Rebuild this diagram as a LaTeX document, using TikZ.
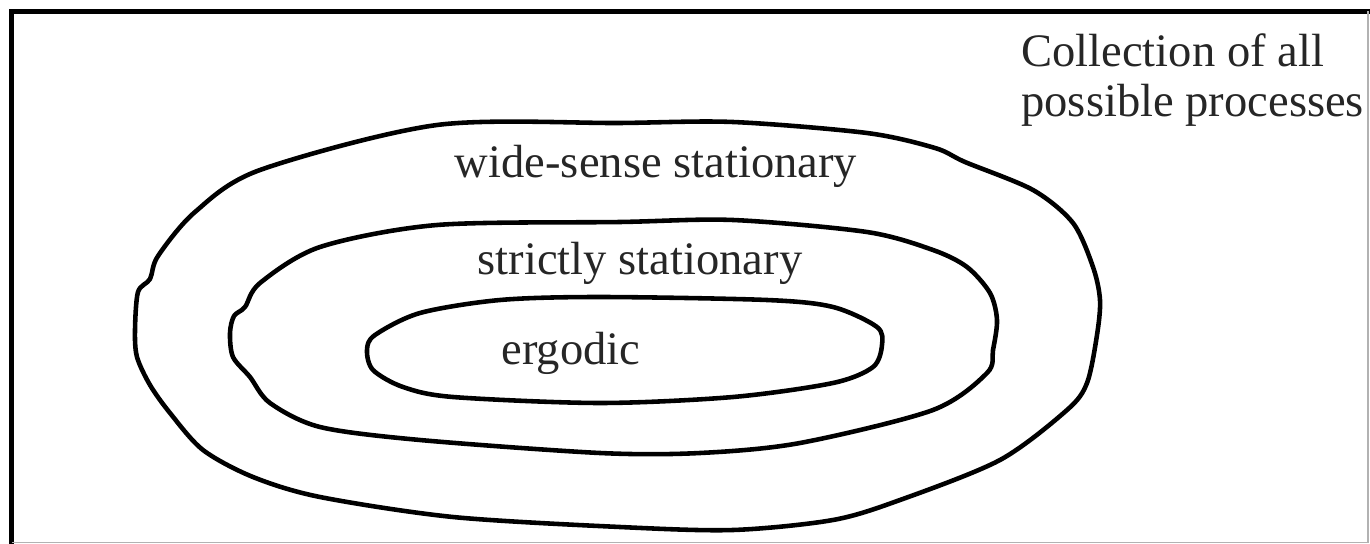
\documentclass[tikz,border=0pt]{standalone}
\usepackage{fontspec}
\setmainfont{Liberation Serif}
\begin{document}
\begin{tikzpicture}[x=0.02cm,y=-0.02cm,
  setline/.style={line width=2.6pt,line join=round,line cap=round},
  lbl/.style={font=\fontsize{26.5}{28.5}\selectfont,inner sep=0pt,text=black!85}]
\useasboundingbox (0,0) rectangle (1370,544);
% frame
\draw[line width=2.9pt] (11.5,544) -- (11.5,11.5) -- (1370,11.5);
\draw[gray!60,line width=0.6pt] (1368,11.5) -- (1368,542.5) -- (11.5,542.5);
% outer: wide-sense stationary
\draw[setline] plot[smooth cycle,tension=0.5] coordinates {
 (135,330) (138,292) (150,279) (158,256) (195,212) (260,170)
 (437,125) (620,123) (733,122) (867,133) (935,148) (965,162) (1033,190)
 (1073,223) (1093,267) (1100,300) (1097,335) (1087,383) (1067,410)
 (1000,460) (900,500) (833,520) (733,530) (620,527) (453,517) (320,497)
 (253,477) (203,450) (170,413) (150,385) (137,357)};
% middle: strictly stationary
\draw[setline] plot[smooth cycle,tension=0.5] coordinates {
 (230,333) (234,316) (245,307) (260,283) (320,247) (437,225)
 (620,222) (733,220) (867,232) (933,250) (967,267) (990,293) (997,320)
 (993,350) (987,373) (933,410) (800,443) (700,453) (600,453) (420,440)
 (320,427) (270,403) (250,377) (233,357)};
% inner: ergodic
\draw[setline] plot[smooth cycle,tension=0.5] coordinates {
 (367,350) (375,335) (420,313) (500,300) (600,297) (767,300) (833,307)
 (877,327) (882,345) (873,367) (833,383) (733,397) (600,403) (453,397) (403,387)
 (373,370)};
% labels
\node[lbl] (wss) at (656,166) {wide-sense stationary};
\node[lbl] (sss) at (640,263) {strictly stationary};
\node[lbl] (erg) at (571,353) {ergodic};
\node[lbl,anchor=north west,align=left] (all) at (1021,33) {Collection of all\\possible processes};
\end{tikzpicture}
\end{document}
